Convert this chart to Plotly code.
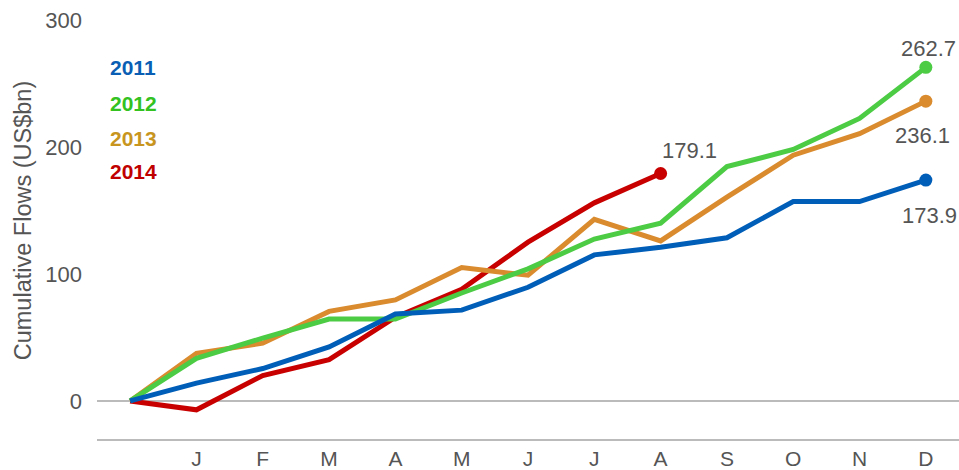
import plotly.graph_objects as go

months = ["", "J", "F", "M", "A", "M", "J", "J", "A", "S", "O", "N", "D"]
years = ["2011", "2012", "2013", "2014"]
v2011 = [0, 14, 25.5, 42.5, 68.5, 71.5, 89.5, 115, 121, 128.5, 157, 157, 173.9]
v2012 = [0, 33.5, 49.5, 64.5, 64.5, 85, 104, 127.5, 140, 184.5, 198, 222.5, 262.7]
v2013 = [0, 37.5, 45.5, 70.5, 79.5, 105, 99, 143, 126, 160.5, 193.5, 210.5, 236.1]
v2014 = [0, -7, 20, 32.5, 66, 88, 125, 156, 179.1]
y_title = "Cumulative Flows (US$bn)"

line_colors = {"2011": "#005EB8", "2012": "#4CCB44", "2013": "#D98B2E", "2014": "#C80000"}
text_colors = {"2011": "#0A5FB4", "2012": "#33C21F", "2013": "#C8961E", "2014": "#C00000"}
series = {"2011": v2011, "2012": v2012, "2013": v2013, "2014": v2014}

FONT = "Liberation Sans, Arial, sans-serif"

fig = go.Figure()
for yr in ["2014", "2013", "2012", "2011"]:
    vals = series[yr]
    n = len(vals)
    fig.add_trace(go.Scatter(
        x=list(range(n)), y=vals, mode="lines+markers",
        line=dict(color=line_colors[yr], width=5),
        marker=dict(size=[0] * (n - 1) + [13], color=line_colors[yr], opacity=1,
                    line=dict(width=0)),
        showlegend=False, hoverinfo="skip", cliponaxis=False,
    ))

# end value labels
label_offsets = {"2011": (4, -35), "2012": (3, 19), "2013": (-3, -34), "2014": (29, 23)}
for yr in years:
    vals = series[yr]
    dx, dy = label_offsets[yr]
    fig.add_annotation(x=len(vals) - 1, y=vals[-1], text=f"{vals[-1]:.1f}",
                       showarrow=False, xshift=dx, yshift=dy,
                       font=dict(family=FONT, size=22, color="#555555"))

# colored year legend
legend_y = [67, 103, 138, 171]
for yr, py in zip(years, legend_y):
    fig.add_annotation(xref="paper", yref="paper", x=(108 - 97) / 862, y=(439 - py) / 419.5,
                       xanchor="left", yanchor="middle", showarrow=False,
                       text=f"<b>{yr}</b>",
                       font=dict(family=FONT, size=21, color=text_colors[yr]))

# y axis title placed as rotated text
fig.add_annotation(xref="paper", yref="paper", x=(23 - 97) / 862, y=(439 - 221) / 419.5,
                   xanchor="center", yanchor="middle", showarrow=False, textangle=-90,
                   text=y_title, font=dict(family=FONT, size=23.5, color="#555555"))

fig.update_layout(
    width=959, height=470,
    margin=dict(l=97, r=0, t=19.5, b=31, autoexpand=False),
    paper_bgcolor="white", plot_bgcolor="white",
    font=dict(family=FONT, color="#555555", size=22),
    xaxis=dict(range=[-0.5, 12.5], tickmode="array", tickvals=list(range(13)), ticktext=months,
               showgrid=False, zeroline=False, showline=True, linecolor="#BBBBBB", linewidth=2,
               ticks="", tickfont=dict(size=21), ticklabelstandoff=0, automargin=False),
    yaxis=dict(range=[-30, 300], tickvals=[0, 100, 200, 300], showgrid=False,
               zeroline=True, zerolinecolor="#BBBBBB", zerolinewidth=2,
               showline=False, ticks="", tickfont=dict(size=22), ticklabelstandoff=14,
               automargin=False),
)

fig.write_html("out.html", config={"displayModeBar": False},
               post_script="document.body.style.margin='0';document.body.style.overflow='hidden';")
